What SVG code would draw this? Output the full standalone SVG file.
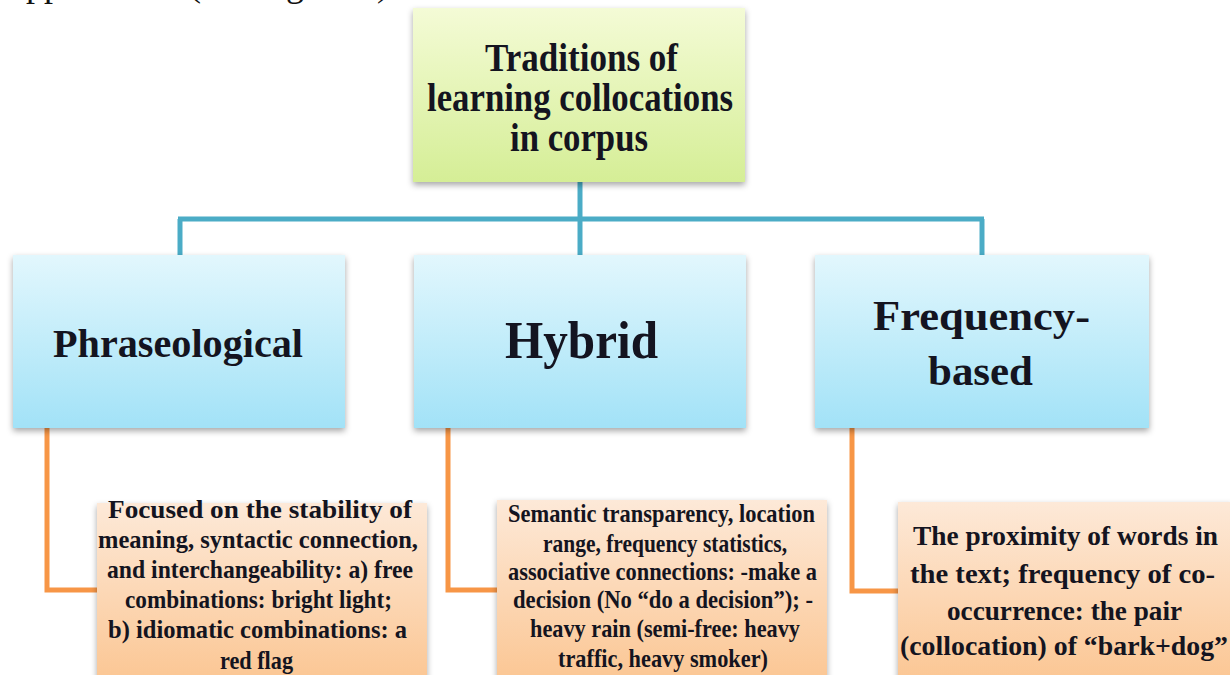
<svg xmlns="http://www.w3.org/2000/svg" width="1230" height="675" viewBox="0 0 1230 675">
  <defs>
    <linearGradient id="gGreen" x1="0" y1="0" x2="0" y2="1">
      <stop offset="0" stop-color="#f4fbd6"/>
      <stop offset="1" stop-color="#d5ee96"/>
    </linearGradient>
    <linearGradient id="gBlue" x1="0" y1="0" x2="0" y2="1">
      <stop offset="0" stop-color="#e2f7fd"/>
      <stop offset="1" stop-color="#a2e2f7"/>
    </linearGradient>
    <linearGradient id="gOrange" x1="0" y1="0" x2="0" y2="1">
      <stop offset="0" stop-color="#fde9d8"/>
      <stop offset="1" stop-color="#fbc48f"/>
    </linearGradient>
    <filter id="shadow" x="-10%" y="-10%" width="120%" height="125%">
      <feDropShadow dx="0" dy="3" stdDeviation="3" flood-color="#000" flood-opacity="0.35"/>
    </filter>
    <style>
      .t { font-family: "Liberation Serif", "Times New Roman", serif; font-weight: bold; fill: #141420; }
      .blue { stroke: #4bacc6; stroke-width: 5; fill: none; }
      .orange { stroke: #f79646; stroke-width: 5; fill: none; }
      .body { font-family: "Liberation Serif", "Times New Roman", serif; fill: #111; }
    </style>
  </defs>

  <rect width="1230" height="675" fill="#ffffff"/>

  <!-- running text cut off at the top edge -->
  <g id="running-text">
    <text class="body" x="10" y="-4" font-size="36">approach</text>
    <text class="body" x="189" y="-4" font-size="36">(see Figure 1)</text>
  </g>

  <!-- connectors -->
  <g id="connectors">
    <path class="blue" d="M580 182 V255"/>
    <path class="blue" d="M178 219 H984"/>
    <path class="blue" d="M180 219 V255"/>
    <path class="blue" d="M982 219 V255"/>
    <path class="orange" d="M47 428 V590 H97"/>
    <path class="orange" d="M448 428 V590 H497"/>
    <path class="orange" d="M852 428 V591 H898"/>
  </g>

  <!-- root -->
  <g id="node-root">
    <rect x="413" y="8" width="332" height="174" fill="url(#gGreen)" filter="url(#shadow)"/>
    <g class="t" font-size="40">
      <text x="485" y="71" textLength="193" lengthAdjust="spacingAndGlyphs">Traditions of</text>
      <text x="427" y="111" textLength="306" lengthAdjust="spacingAndGlyphs">learning collocations</text>
      <text x="510" y="151" textLength="138" lengthAdjust="spacingAndGlyphs">in corpus</text>
    </g>
  </g>

  <!-- second level -->
  <g id="node-phraseological">
    <rect x="13" y="255" width="332" height="173" fill="url(#gBlue)" filter="url(#shadow)"/>
    <text class="t" font-size="40" x="53" y="357" textLength="250" lengthAdjust="spacingAndGlyphs">Phraseological</text>
  </g>
  <g id="node-hybrid">
    <rect x="414" y="255" width="332" height="173" fill="url(#gBlue)" filter="url(#shadow)"/>
    <text class="t" font-size="52" x="505" y="358" textLength="153" lengthAdjust="spacingAndGlyphs">Hybrid</text>
  </g>
  <g id="node-frequency">
    <rect x="815" y="255" width="334" height="173" fill="url(#gBlue)" filter="url(#shadow)"/>
    <text class="t" font-size="43" x="873" y="330" textLength="217" lengthAdjust="spacingAndGlyphs">Frequency-</text>
    <text class="t" font-size="43" x="928" y="385" textLength="105" lengthAdjust="spacingAndGlyphs">based</text>
  </g>

  <!-- descriptions -->
  <g id="desc-phraseological">
    <rect x="97" y="503" width="330" height="190" fill="url(#gOrange)" filter="url(#shadow)"/>
    <g class="t" font-size="26">
      <text x="108" y="518" textLength="304" lengthAdjust="spacingAndGlyphs">Focused on the stability of</text>
      <text x="98" y="548" textLength="320" lengthAdjust="spacingAndGlyphs">meaning, syntactic connection,</text>
      <text x="107" y="578" textLength="306" lengthAdjust="spacingAndGlyphs">and interchangeability: a) free</text>
      <text x="125" y="608" textLength="267" lengthAdjust="spacingAndGlyphs">combinations: bright light;</text>
      <text x="108" y="638" textLength="299" lengthAdjust="spacingAndGlyphs">b) idiomatic combinations: a</text>
      <text x="220" y="669" textLength="73" lengthAdjust="spacingAndGlyphs">red flag</text>
    </g>
  </g>
  <g id="desc-hybrid">
    <rect x="497" y="500" width="330" height="193" fill="url(#gOrange)" filter="url(#shadow)"/>
    <g class="t" font-size="25">
      <text x="508" y="522" textLength="307" lengthAdjust="spacingAndGlyphs">Semantic transparency, location</text>
      <text x="543" y="552" textLength="244" lengthAdjust="spacingAndGlyphs">range, frequency statistics,</text>
      <text x="508" y="580" textLength="309" lengthAdjust="spacingAndGlyphs">associative connections: -make a</text>
      <text x="513" y="608" textLength="300" lengthAdjust="spacingAndGlyphs">decision (No “do a decision”); -</text>
      <text x="530" y="637" textLength="270" lengthAdjust="spacingAndGlyphs">heavy rain (semi-free: heavy</text>
      <text x="558" y="667" textLength="210" lengthAdjust="spacingAndGlyphs">traffic, heavy smoker)</text>
    </g>
  </g>
  <g id="desc-frequency">
    <rect x="898" y="502" width="334" height="191" fill="url(#gOrange)" filter="url(#shadow)"/>
    <g class="t" font-size="28">
      <text x="913" y="545" textLength="305" lengthAdjust="spacingAndGlyphs">The proximity of words in</text>
      <text x="910" y="583" textLength="305" lengthAdjust="spacingAndGlyphs">the text; frequency of co-</text>
      <text x="947" y="620" textLength="235" lengthAdjust="spacingAndGlyphs">occurrence: the pair</text>
      <text x="900" y="655" textLength="328" lengthAdjust="spacingAndGlyphs">(collocation) of “bark+dog”</text>
    </g>
  </g>
</svg>
